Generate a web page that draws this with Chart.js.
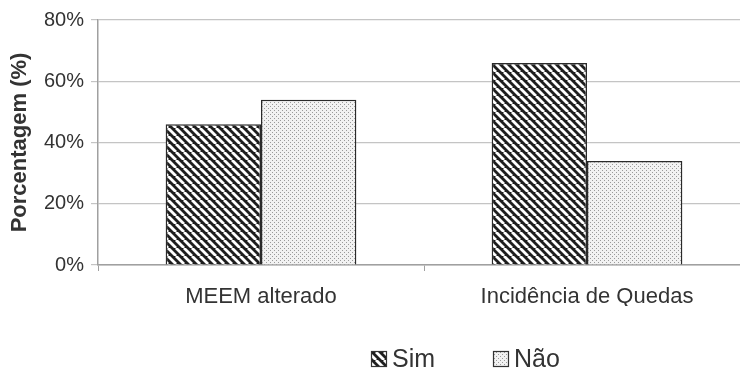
<!DOCTYPE html>
<html>
<head>
<meta charset="utf-8">
<script src="https://cdn.jsdelivr.net/npm/chart.js@4"></script>
<style>
html,body{margin:0;padding:0;background:#fff;overflow:hidden;}
#wrap{width:756px;height:372px;}
</style>
</head>
<body>
<div id="wrap"><canvas id="c" width="756" height="372"></canvas></div>
<script>
const categories = ["MEEM alterado", "Incidência de Quedas"];
const seriesNames = ["Sim", "Não"];
const simValues = [46, 66];
const naoValues = [54, 34];
const yTicks = [0, 20, 40, 60, 80];

const FONT = 'Arial, "Liberation Sans", sans-serif';

function stripePattern() {
  const t = document.createElement('canvas');
  t.width = 8; t.height = 8;
  const g = t.getContext('2d');
  g.fillStyle = '#1e1e1e';
  g.fillRect(0, 0, 8, 8);
  g.strokeStyle = '#ffffff';
  g.lineWidth = 2.8;
  for (const x of [-8, 0, 8]) {
    g.beginPath();
    g.moveTo(x, 0);
    g.lineTo(x + 8, 8);
    g.stroke();
  }
  return g.createPattern(t, 'repeat');
}
function dotPattern() {
  const t = document.createElement('canvas');
  t.width = 4; t.height = 4;
  const g = t.getContext('2d');
  g.fillStyle = '#f2f2f2';
  g.fillRect(0, 0, 4, 4);
  g.fillStyle = '#9a9a9a';
  g.fillRect(0, 0, 1, 1);
  g.fillRect(2, 2, 1, 1);
  return g.createPattern(t, 'repeat');
}
const simFill = stripePattern();
const naoFill = dotPattern();

const customLegend = {
  id: 'customLegend',
  afterDraw(chart) {
    const ctx = chart.ctx;
    const items = chart.data.datasets;
    const starts = [371, 493];
    const y = 359;
    ctx.save();
    ctx.font = '25px ' + FONT;
    ctx.textBaseline = 'middle';
    items.forEach((ds, i) => {
      const x = starts[i];
      ctx.fillStyle = ds.backgroundColor;
      ctx.fillRect(x, y - 8, 16, 16);
      ctx.strokeStyle = '#333';
      ctx.lineWidth = 1.2;
      ctx.strokeRect(x + 0.5, y - 7.5, 15, 15);
      ctx.fillStyle = '#333';
      ctx.fillText(ds.label, x + 21, y + 1);
    });
    ctx.restore();
  }
};

new Chart(document.getElementById('c'), {
  type: 'bar',
  data: {
    labels: categories,
    datasets: [
      { label: seriesNames[0], data: simValues, backgroundColor: simFill, borderColor: '#2a2a2a', borderWidth: 1.5 },
      { label: seriesNames[1], data: naoValues, backgroundColor: naoFill, borderColor: '#2a2a2a', borderWidth: 1.5 }
    ]
  },
  options: {
    responsive: false,
    animation: false,
    events: [],
    layout: { padding: { top: 20, right: 6, bottom: 66, left: 0 } },
    datasets: { bar: { categoryPercentage: 0.585, barPercentage: 1.0 } },
    plugins: {
      legend: { display: false },
      tooltip: { enabled: false }
    },
    scales: {
      x: {
        grid: { offset: true, drawOnChartArea: false, drawTicks: true, tickLength: 6, color: '#a0a0a0', lineWidth: 1 },
        border: { color: '#a0a0a0', width: 1.5 },
        ticks: { color: '#333', font: { family: FONT, size: 22 }, padding: 13 },
        afterFit(scale) { scale.height = 41; }
      },
      y: {
        min: 0, max: 80,
        afterBuildTicks(scale) { scale.ticks = yTicks.map(v => ({ value: v })); },
        grid: { color: '#c4c4c4', lineWidth: 1.2, tickLength: 7, drawTicks: true },
        border: { color: '#a0a0a0', width: 1.5 },
        ticks: {
          color: '#333',
          font: { family: FONT, size: 20 },
          padding: 7,
          callback: v => v + '%'
        },
        title: {
          display: true,
          text: 'Porcentagem (%)',
          color: '#333',
          font: { family: FONT, size: 22, weight: 'bold' },
          padding: { top: 7, bottom: 0 }
        },
        afterFit(scale) { scale.width = 98; }
      }
    }
  },
  plugins: [customLegend]
});
</script>
</body>
</html>
